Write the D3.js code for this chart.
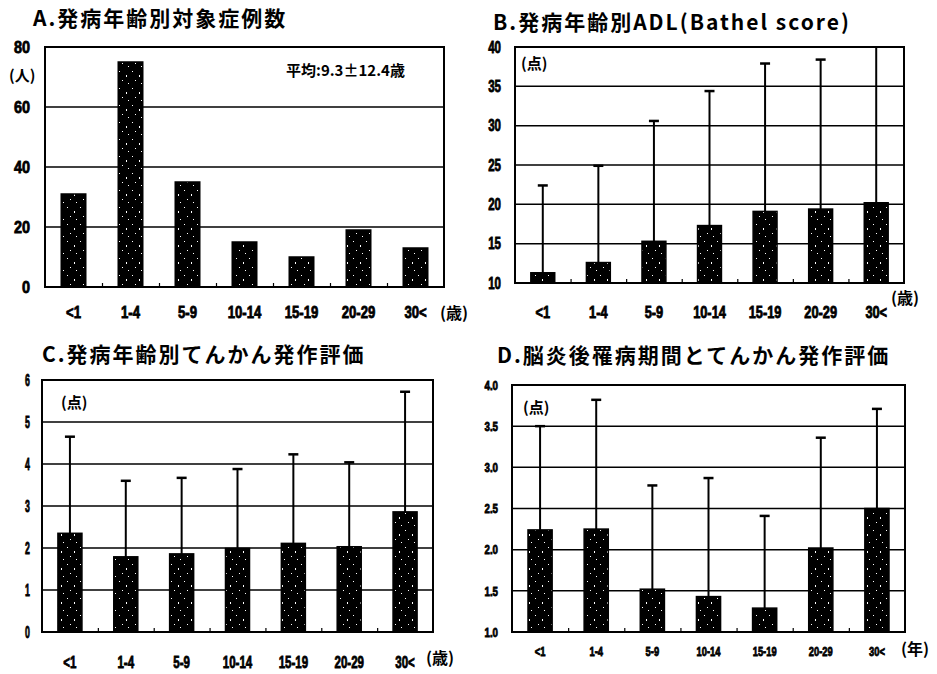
<!DOCTYPE html>
<html>
<head>
<meta charset="utf-8">
<script src="https://cdn.jsdelivr.net/npm/d3@7"></script>
<style>
  html, body { margin: 0; padding: 0; background: #fff; }
  svg { display: block; }
  .title { font-family: "Noto Sans CJK JP", sans-serif; font-weight: 700; font-size: 21px; letter-spacing: 2px; fill: #000; }
  .axis-label { font-family: "Liberation Sans", Arial, sans-serif; font-weight: 700; fill: #000; stroke: #000; stroke-width: 0.8px; }
  .unit { font-family: "Noto Sans CJK JP", sans-serif; font-weight: 700; font-size: 15px; fill: #000; }
</style>
</head>
<body>
<svg id="chart" width="937" height="674"></svg>
<script>
// Age-at-onset groups (also used for disease-duration groups in panel D)
const categories = ["<1", "1-4", "5-9", "10-14", "15-19", "20-29", "30<"];

// A. number of cases by age at onset
const caseCounts = [31, 75, 35, 15, 10, 19, 13];
const caseTicks = [0, 20, 40, 60, 80];

// B. ADL (Barthel score) by age at onset: mean and mean + SD
const adlMean = [11.3, 12.6, 15.3, 17.3, 19.1, 19.4, 20.2];
const adlUpper = [22.4, 24.9, 30.6, 34.4, 37.9, 38.4, 42.0];
const adlTicks = [10, 15, 20, 25, 30, 35, 40];

// C. seizure score by age at onset
const seizureMean = [2.35, 1.79, 1.86, 1.99, 2.11, 2.03, 2.86];
const seizureUpper = [4.65, 3.60, 3.67, 3.88, 4.23, 4.04, 5.72];
const seizureTicks = [0, 1, 2, 3, 4, 5, 6];

// D. seizure score by disease duration after encephalitis
const durationMean = [2.24, 2.25, 1.52, 1.43, 1.29, 2.02, 2.50];
const durationUpper = [3.50, 3.82, 2.78, 2.87, 2.41, 3.36, 3.71];
const durationTicks = [1.0, 1.5, 2.0, 2.5, 3.0, 3.5, 4.0];

const panels = [
  {
    title: "A.発病年齢別対象症例数", titleX: 33, titleY: 26,
    box: { x0: 45, x1: 444, y0: 47, y1: 287 },
    domain: [0, 80], ticks: caseTicks, fmt: d3.format("d"),
    mean: caseCounts, upper: null,
    yFont: 17, ySx: 0.85, yPad: 15, xFont: 16, xSx: 0.82, xPad: 20,
    unitY: { text: "(人)", x: 9, y: 81 },
    unitX: { text: "(歳)", x: 440, y: 319 },
    extra: { text: "平均:9.3±12.4歳", x: 286, y: 76 }
  },
  {
    title: "B.発病年齢別ADL(Bathel score)", titleX: 493, titleY: 30,
    box: { x0: 515, x1: 904, y0: 47, y1: 283 },
    domain: [10, 40], ticks: adlTicks, fmt: d3.format("d"),
    mean: adlMean, upper: adlUpper,
    yFont: 16, ySx: 0.72, yPad: 14, xFont: 16, xSx: 0.8, xPad: 24,
    unitY: { text: "(点)", x: 521, y: 69 },
    unitX: { text: "(歳)", x: 891, y: 304 }
  },
  {
    title: "C.発病年齢別てんかん発作評価", titleX: 42, titleY: 362,
    box: { x0: 42, x1: 433, y0: 380, y1: 632 },
    domain: [0, 6], ticks: seizureTicks, fmt: d3.format("d"),
    mean: seizureMean, upper: seizureUpper,
    yFont: 16, ySx: 0.55, yPad: 12, xFont: 16, xSx: 0.72, xPad: 25,
    unitY: { text: "(点)", x: 61, y: 408 },
    unitX: { text: "(歳)", x: 426, y: 664 }
  },
  {
    title: "D.脳炎後罹病期間とてんかん発作評価", titleX: 497, titleY: 363,
    box: { x0: 512, x1: 905, y0: 385, y1: 632 },
    domain: [1, 4], ticks: durationTicks, fmt: d3.format(".1f"),
    mean: durationMean, upper: durationUpper,
    yFont: 13, ySx: 0.75, yPad: 14, xFont: 13, xSx: 0.72, xPad: 15,
    unitY: { text: "(点)", x: 523, y: 413 },
    unitX: { text: "(年)", x: 901, y: 655 }
  }
];

const svg = d3.select("#chart");

// Stippled fill used for all bars: black with scattered white specks
const defs = svg.append("defs");
const pat = defs.append("pattern")
  .attr("id", "stipple").attr("patternUnits", "userSpaceOnUse")
  .attr("width", 13).attr("height", 17);
pat.append("rect").attr("width", 13).attr("height", 17).attr("fill", "#000");
[[2, 3, 1, 1], [9, 7, 1, 2], [5, 12, 1, 1], [11, 15, 1, 1]].forEach(([px, py, w, h]) =>
  pat.append("rect").attr("x", px).attr("y", py).attr("width", w).attr("height", h).attr("fill", "#fff"));

panels.forEach((p, i) => {
  const g = svg.append("g");
  const { x0, x1, y0, y1 } = p.box;

  const x = d3.scaleBand().domain(categories).range([x0, x1])
    .paddingInner(0.57).paddingOuter(0.285);
  const y = d3.scaleLinear().domain(p.domain).range([y1, y0]);

  const clipId = "clip" + i;
  defs.append("clipPath").attr("id", clipId)
    .append("rect").attr("x", x0).attr("y", y0).attr("width", x1 - x0).attr("height", y1 - y0);

  // Title
  g.append("text").attr("class", "title")
    .attr("x", p.titleX).attr("y", p.titleY).text(p.title);

  // Horizontal gridlines
  g.append("g").selectAll("line")
    .data(p.ticks.slice(1, -1))
    .join("line")
    .attr("x1", x0).attr("x2", x1)
    .attr("y1", d => y(d)).attr("y2", d => y(d))
    .attr("stroke", "#000").attr("stroke-width", 1.5);

  const data = categories.map((c, k) => ({
    c, m: p.mean[k], u: p.upper ? p.upper[k] : null
  }));

  // Error bars (mean to mean + SD)
  if (p.upper) {
    const eb = g.append("g").attr("clip-path", `url(#${clipId})`);
    const cx = d => x(d.c) + x.bandwidth() / 2;
    eb.selectAll("line.stem").data(data).join("line").attr("class", "stem")
      .attr("x1", cx).attr("x2", cx)
      .attr("y1", d => y(d.m)).attr("y2", d => y(d.u))
      .attr("stroke", "#000").attr("stroke-width", 2);
    eb.selectAll("line.cap").data(data).join("line").attr("class", "cap")
      .attr("x1", d => cx(d) - 5).attr("x2", d => cx(d) + 5)
      .attr("y1", d => y(d.u)).attr("y2", d => y(d.u))
      .attr("stroke", "#000").attr("stroke-width", 2.5);
  }

  // Bars
  g.append("g").selectAll("rect").data(data).join("rect")
    .attr("x", d => x(d.c)).attr("width", x.bandwidth())
    .attr("y", d => y(d.m)).attr("height", d => y1 - y(d.m))
    .attr("fill", "url(#stipple)")
    .attr("stroke", "#000").attr("stroke-width", 1.5);

  // Small inward ticks at category boundaries
  const bx = d => x(d) + x.step() - x.step() * x.paddingInner() / 2 + 0.5;
  g.append("g").selectAll("line").data(categories.slice(0, -1)).join("line")
    .attr("x1", bx).attr("x2", bx)
    .attr("y1", y1).attr("y2", y1 - 4)
    .attr("stroke", "#000").attr("stroke-width", 1.2);

  // Plot frame
  g.append("rect").attr("x", x0).attr("y", y0)
    .attr("width", x1 - x0).attr("height", y1 - y0)
    .attr("fill", "none").attr("stroke", "#000").attr("stroke-width", 2);

  // Y axis labels (condensed)
  const ya = g.append("g").attr("transform", `translate(${x0},0)`)
    .call(d3.axisLeft(y).tickValues(p.ticks).tickFormat(p.fmt).tickSize(0).tickPadding(p.yPad));
  ya.select(".domain").remove();
  ya.attr("font-size", null).attr("font-family", null);
  ya.selectAll("text")
    .attr("class", "axis-label")
    .attr("font-size", p.yFont)
    .attr("x", -p.yPad / p.ySx)
    .attr("transform", `scale(${p.ySx},1)`);

  // X axis labels (condensed)
  const xa = g.append("g").attr("transform", `translate(0,${y1})`)
    .call(d3.axisBottom(x).tickSize(0).tickPadding(p.xPad));
  xa.select(".domain").remove();
  xa.attr("font-size", null).attr("font-family", null);
  xa.selectAll("text")
    .attr("class", "axis-label")
    .attr("font-size", p.xFont)
    .attr("transform", `scale(${p.xSx},1)`);

  // Unit labels
  g.append("text").attr("class", "unit").attr("x", p.unitY.x).attr("y", p.unitY.y).text(p.unitY.text);
  g.append("text").attr("class", "unit").attr("x", p.unitX.x).attr("y", p.unitX.y)
    .style("font-size", "16px").text(p.unitX.text);
  if (p.extra) {
    g.append("text").attr("class", "unit").attr("x", p.extra.x).attr("y", p.extra.y)
      .text(p.extra.text);
  }
});
</script>
</body>
</html>
